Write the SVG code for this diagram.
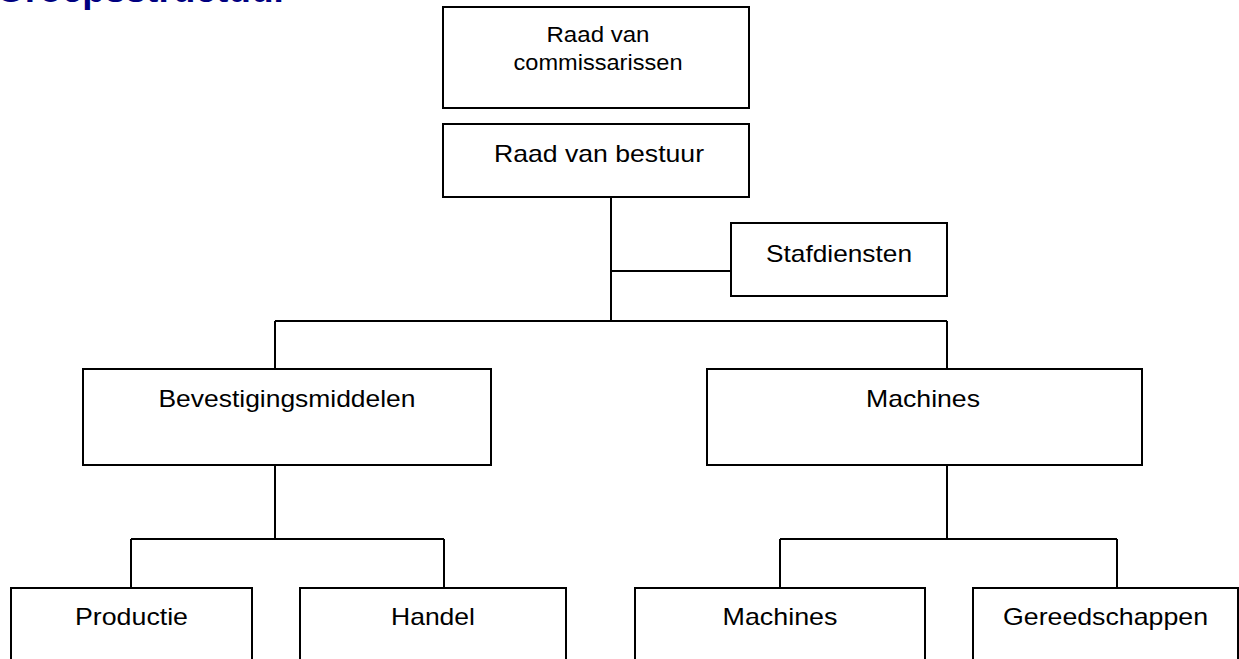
<svg xmlns="http://www.w3.org/2000/svg" width="1239" height="659" viewBox="0 0 1239 659">
<style>
.box{fill:#fff;stroke:#000;stroke-width:2}
.lbl{font-family:"Liberation Sans",Arial,sans-serif;font-size:24px;fill:#000;text-anchor:middle}
.sm{font-size:22px}
.con{fill:none;stroke:#000;stroke-width:2}
.title{font-family:"Liberation Sans",Arial,sans-serif;font-size:37px;font-weight:bold;fill:#000080}
</style>
<rect width="1239" height="659" fill="#fff"/>
<text class="title" x="-4" y="2">Groepsstructuur</text>
<g id="connectors">
<path class="con" d="M611 197V321M611 271H731M275 321H947M275 321V369M947 321V369"/>
<path class="con" d="M275 465V539M131 539H444M131 539V588M444 539V588"/>
<path class="con" d="M947 465V539M780 539H1117M780 539V588M1117 539V588"/>
</g>
<g id="n-rvc">
<rect class="box" x="443" y="7" width="306" height="101"/>
<text class="lbl sm" x="598" y="42" textLength="103" lengthAdjust="spacingAndGlyphs">Raad van</text>
<text class="lbl sm" x="598" y="70" textLength="169" lengthAdjust="spacingAndGlyphs">commissarissen</text>
</g>
<g id="n-rvb">
<rect class="box" x="443" y="124" width="306" height="73"/>
<text class="lbl" x="599" y="162" textLength="210" lengthAdjust="spacingAndGlyphs">Raad van bestuur</text>
</g>
<g id="n-staf">
<rect class="box" x="731" y="223" width="216" height="73"/>
<text class="lbl" x="839" y="262" textLength="146" lengthAdjust="spacingAndGlyphs">Stafdiensten</text>
</g>
<g id="n-bev">
<rect class="box" x="83" y="369" width="408" height="96"/>
<text class="lbl" x="287" y="407" textLength="257" lengthAdjust="spacingAndGlyphs">Bevestigingsmiddelen</text>
</g>
<g id="n-mach">
<rect class="box" x="707" y="369" width="435" height="96"/>
<text class="lbl" x="923" y="407" textLength="114" lengthAdjust="spacingAndGlyphs">Machines</text>
</g>
<g id="n-prod">
<rect class="box" x="11" y="588" width="241" height="120"/>
<text class="lbl" x="131.5" y="625" textLength="113" lengthAdjust="spacingAndGlyphs">Productie</text>
</g>
<g id="n-handel">
<rect class="box" x="300" y="588" width="266" height="120"/>
<text class="lbl" x="433" y="625" textLength="84" lengthAdjust="spacingAndGlyphs">Handel</text>
</g>
<g id="n-mach2">
<rect class="box" x="635" y="588" width="290" height="120"/>
<text class="lbl" x="780" y="625" textLength="115" lengthAdjust="spacingAndGlyphs">Machines</text>
</g>
<g id="n-gereed">
<rect class="box" x="973" y="588" width="265" height="120"/>
<text class="lbl" x="1105.5" y="625" textLength="205" lengthAdjust="spacingAndGlyphs">Gereedschappen</text>
</g>
</svg>
